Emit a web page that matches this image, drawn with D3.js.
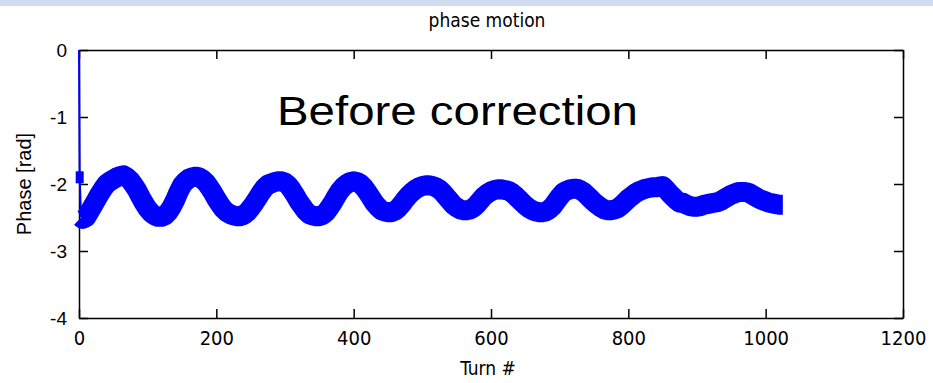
<!DOCTYPE html>
<html lang="en">
<head>
    <meta charset="UTF-8">
    <title>phase motion</title>
    <script src="https://d3js.org/d3.v7.min.js"></script>
    <style>
        body {
            margin: 0;
            padding: 0;
            background-color: #fff;
        }

        #chart {
            display: block;
        }

        .mat-text {
            font-family: "Liberation Sans Narrow", "Arial Narrow", "DejaVu Sans Condensed", sans-serif;
            fill: #000;
        }

        .plain-text {
            font-family: "Liberation Sans", Arial, sans-serif;
            fill: #000;
        }
    </style>
</head>
<body>
<svg id="chart"></svg>

<script>
    // Turn numbers and phase values
    const turns = [0, 1, 3, 5, 10, 15, 20, 25, 30, 35, 40, 45, 50, 55, 60, 65, 70, 75, 80, 85, 90, 95,
        100, 105, 110, 115, 120, 125, 130, 135, 140, 145, 150, 155, 160, 165, 170, 175, 180, 185, 190, 195,
        200, 205, 210, 215, 220, 225, 230, 235, 240, 245, 250, 255, 260, 265, 270, 275, 280, 285, 290, 295,
        300, 305, 310, 315, 320, 325, 330, 335, 340, 345, 350, 355, 360, 365, 370, 375, 380, 385, 390, 395,
        400, 405, 410, 415, 420, 425, 430, 435, 440, 445, 450, 455, 460, 465, 470, 475, 480, 485, 490, 495,
        500, 505, 510, 515, 520, 525, 530, 535, 540, 545, 550, 555, 560, 565, 570, 575, 580, 585, 590, 595,
        600, 605, 610, 615, 620, 625, 630, 635, 640, 645, 650, 655, 660, 665, 670, 675, 680, 685, 690, 695,
        700, 705, 710, 715, 720, 725, 730, 735, 740, 745, 750, 755, 760, 765, 770, 775, 780, 785, 790, 795,
        800, 805, 810, 815, 820, 825, 830, 835, 840, 845, 850, 855, 860, 865, 870, 875, 880, 885, 890, 895,
        900, 905, 910, 915, 920, 925, 930, 935, 940, 945, 950, 955, 960, 965, 970, 975, 980, 985, 990, 995,
        1000, 1005, 1010, 1015, 1020, 1025];

    const phases = [0, -1.90, -2.50, -2.52, -2.50, -2.42, -2.33, -2.24, -2.15, -2.07, -2.00, -1.96, -1.93, -1.90, -1.88, -1.87, -1.90, -1.95, -2.02, -2.10, -2.20, -2.29,
        -2.37, -2.43, -2.47, -2.49, -2.49, -2.47, -2.42, -2.34, -2.24, -2.12, -2.02, -1.96, -1.92, -1.90, -1.89, -1.90, -1.93, -1.98, -2.05, -2.13,
        -2.22, -2.30, -2.37, -2.42, -2.45, -2.47, -2.48, -2.48, -2.46, -2.42, -2.36, -2.29, -2.21, -2.13, -2.06, -2.01, -1.99, -1.97, -1.96, -1.96,
        -1.98, -2.02, -2.09, -2.17, -2.26, -2.33, -2.40, -2.45, -2.47, -2.48, -2.48, -2.46, -2.42, -2.35, -2.27, -2.18, -2.10, -2.04, -2.00, -1.97,
        -1.96, -1.97, -2.00, -2.05, -2.12, -2.20, -2.28, -2.34, -2.39, -2.41, -2.42, -2.42, -2.40, -2.36, -2.30, -2.23, -2.17, -2.12, -2.08, -2.05,
        -2.03, -2.02, -2.02, -2.03, -2.05, -2.08, -2.13, -2.19, -2.25, -2.31, -2.35, -2.38, -2.39, -2.39, -2.38, -2.35, -2.30, -2.24, -2.18, -2.14,
        -2.11, -2.09, -2.08, -2.08, -2.09, -2.10, -2.13, -2.17, -2.22, -2.27, -2.32, -2.36, -2.39, -2.41, -2.42, -2.42, -2.41, -2.38, -2.33, -2.26,
        -2.19, -2.13, -2.10, -2.08, -2.07, -2.07, -2.09, -2.12, -2.17, -2.22, -2.27, -2.31, -2.35, -2.38, -2.39, -2.39, -2.38, -2.36, -2.32, -2.27,
        -2.22, -2.18, -2.14, -2.11, -2.09, -2.07, -2.06, -2.05, -2.05, -2.04, -2.03, -2.08, -2.14, -2.19, -2.24, -2.28, -2.28, -2.31, -2.33, -2.34,
        -2.34, -2.33, -2.31, -2.30, -2.29, -2.28, -2.27, -2.25, -2.22, -2.19, -2.16, -2.14, -2.12, -2.12, -2.12, -2.13, -2.16, -2.19, -2.22, -2.24,
        -2.26, -2.28, -2.29, -2.30, -2.31, -2.31];

    const xTicks = [0, 200, 400, 600, 800, 1000, 1200];
    const yTicks = [0, -1, -2, -3, -4];

    const data = turns.map((t, i) => ({ turn: t, phase: phases[i] }));

    // Chart dimensions
    const W = 933, H = 383;
    const plot = { left: 79, right: 903, top: 50, bottom: 318 };
    const tickLen = 9;

    const svg = d3.select('#chart')
        .attr('width', W)
        .attr('height', H);

    // light band across the top of the slide
    svg.append('rect')
        .attr('x', 0).attr('y', 0)
        .attr('width', W).attr('height', 6)
        .attr('fill', '#d0dcf2');

    const x = d3.scaleLinear().domain([0, 1200]).range([plot.left, plot.right]);
    const y = d3.scaleLinear().domain([-4, 0]).range([plot.bottom, plot.top]);

    // Axes box (MATLAB style, ticks inward on all sides)
    svg.append('g')
        .attr('transform', `translate(0,${plot.bottom})`)
        .call(d3.axisBottom(x).tickValues(xTicks).tickFormat(d3.format('d'))
            .tickSize(-tickLen).tickSizeOuter(0).tickPadding(tickLen + 4))
        .call(g => g.select('.domain').attr('stroke-width', 1.5))
        .call(g => g.selectAll('.tick line').attr('stroke-width', 1.5))
        .call(g => g.selectAll('.tick text')
            .attr('class', 'mat-text')
            .style('font-size', '20px'));

    svg.append('g')
        .attr('transform', `translate(0,${plot.top})`)
        .call(d3.axisTop(x).tickValues(xTicks).tickSize(-tickLen).tickSizeOuter(0).tickFormat(''))
        .call(g => g.select('.domain').attr('stroke-width', 1.5))
        .call(g => g.selectAll('.tick line').attr('stroke-width', 1.5));

    svg.append('g')
        .attr('transform', `translate(${plot.left},0)`)
        .call(d3.axisLeft(y).tickValues(yTicks).tickSize(-tickLen).tickSizeOuter(0).tickPadding(tickLen + 3)
            .tickFormat(d => d === 0 ? '0' : '-' + Math.abs(d)))
        .call(g => g.select('.domain').attr('stroke-width', 1.5))
        .call(g => g.selectAll('.tick line').attr('stroke-width', 1.5))
        .call(g => g.selectAll('.tick text')
            .attr('class', 'plain-text')
            .style('font-size', '19px'));

    svg.append('g')
        .attr('transform', `translate(${plot.right},0)`)
        .call(d3.axisRight(y).tickValues(yTicks).tickSize(-tickLen).tickSizeOuter(0).tickFormat(''))
        .call(g => g.select('.domain').attr('stroke-width', 1.5))
        .call(g => g.selectAll('.tick line').attr('stroke-width', 1.5));

    // Phase trace
    const line = d3.line()
        .x(d => x(d.turn))
        .y(d => y(d.phase));

    // thin start segment from the first samples
    svg.append('path')
        .datum(data.slice(0, 3))
        .attr('d', line)
        .attr('fill', 'none')
        .attr('stroke', '#0000ff')
        .attr('stroke-width', 2);

    // small blob at the second sample
    svg.append('rect')
        .datum(data[1])
        .attr('x', d => x(d.turn) - 4)
        .attr('y', d => y(d.phase) - 6)
        .attr('width', 8)
        .attr('height', 12)
        .attr('fill', '#0000ff');

    svg.append('path')
        .datum(data.slice(2))
        .attr('d', line)
        .attr('fill', 'none')
        .attr('stroke', '#0000ff')
        .attr('stroke-width', 20)
        .attr('stroke-linejoin', 'round')
        .attr('stroke-linecap', 'butt');

    // Titles and labels
    svg.append('text')
        .attr('class', 'mat-text')
        .attr('x', 487)
        .attr('y', 27)
        .attr('text-anchor', 'middle')
        .style('font-size', '19px')
        .text('phase motion');

    svg.append('text')
        .attr('class', 'mat-text')
        .attr('x', 488)
        .attr('y', 375)
        .attr('text-anchor', 'middle')
        .style('font-size', '19px')
        .text('Turn #');

    svg.append('text')
        .attr('class', 'plain-text')
        .attr('transform', `translate(31,${(plot.top + plot.bottom) / 2}) rotate(-90)`)
        .attr('text-anchor', 'middle')
        .style('font-size', '20px')
        .text('Phase [rad]');

    svg.append('text')
        .attr('class', 'plain-text')
        .attr('x', 277)
        .attr('y', 125)
        .attr('textLength', 361)
        .attr('lengthAdjust', 'spacingAndGlyphs')
        .style('font-size', '41px')
        .text('Before correction');
</script>
</body>
</html>
